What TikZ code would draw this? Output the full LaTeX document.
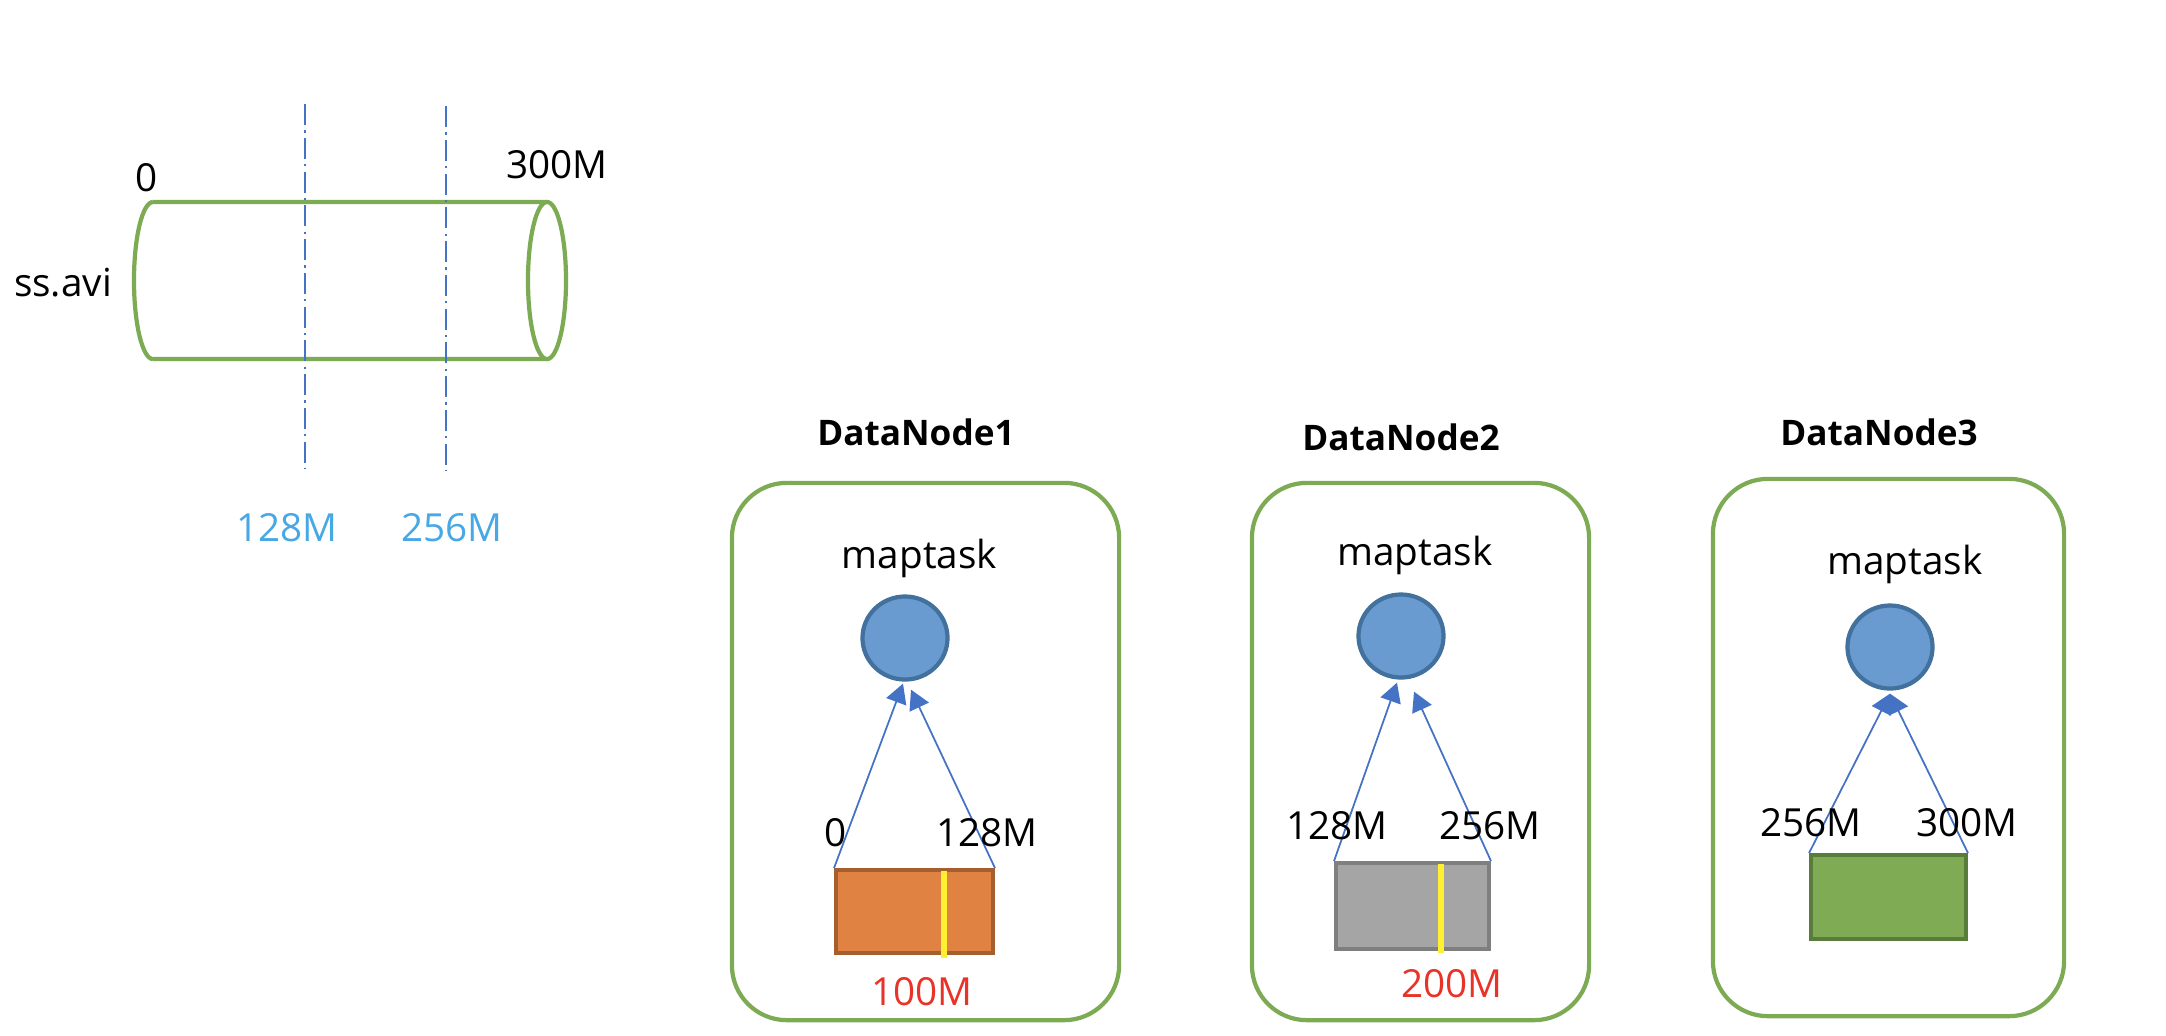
\documentclass[tikz,border=0pt]{standalone}
\usepackage{fontspec}
\setmainfont{Open Sans}
\usetikzlibrary{arrows.meta,shapes.geometric}
\definecolor{hdgreen}{RGB}{125,171,84}
\definecolor{cutblue}{RGB}{68,114,196}
\definecolor{sizeblue}{RGB}{72,168,230}
\definecolor{taskfill}{RGB}{106,155,208}
\definecolor{taskline}{RGB}{65,113,156}
\definecolor{splitred}{RGB}{232,52,40}
\definecolor{cutyellow}{RGB}{255,240,50}
\definecolor{orfill}{RGB}{224,130,66} \definecolor{orline}{RGB}{165,94,45}
\definecolor{grfill}{RGB}{165,165,165} \definecolor{grline}{RGB}{127,127,127}
\definecolor{gnfill}{RGB}{127,171,85} \definecolor{gnline}{RGB}{88,125,58}

\begin{document}
\begin{tikzpicture}[x=0.01cm, y=-0.01cm,
    txt/.style={inner sep=0pt, font=\fontsize{11}{13}\selectfont},
    title/.style={inner sep=0pt, font=\fontsize{10}{12}\selectfont\bfseries},
    dnbox/.style={draw=hdgreen, line width=1.2pt, rounded corners=0.55cm, inner sep=0pt, minimum height=5.37cm},
    task/.style={ellipse, draw=taskline, fill=taskfill, line width=1.2pt, minimum width=0.85cm, minimum height=0.83cm, inner sep=0pt},
    split/.style={line width=1.1pt, minimum width=1.55cm, minimum height=0.84cm, inner sep=0pt},
    feed/.style={cutblue, line width=0.5pt, -{Triangle[width=6pt,length=5.5pt]}},
    cut/.style={cutblue, line width=0.6pt, dash pattern=on 6pt off 1.5pt on 0.6pt off 1.5pt}]
    \useasboundingbox (0,0) rectangle (2166,1035);

    % the file, cut at 128M and 256M
    \draw[hdgreen, line width=1.2pt] (153,202) -- (547,202) (153,359) -- (547,359)
        (153,202) arc[start angle=90, end angle=270, x radius=0.19cm, y radius=0.785cm];
    \draw[hdgreen, line width=1.2pt] (547,280.5) ellipse (0.19cm and 0.785cm);
    \foreach \x/\y in {305/104, 446/106} \draw[cut] (\x,\y) -- ++(0,364);
    \node[txt] (f0) at (147,178) {0}; \node[txt] (f300) at (557,165) {300M};
    \node[txt] (file) at (63,283) {ss.avi};
    \node[txt, sizeblue] (c128) at (287,528) {128M}; \node[txt, sizeblue] (c256) at (452,528) {256M};

    % DataNode1
    \node[dnbox, minimum width=3.87cm] (dn1) at (925.5,751.5) {};
    \node[title] (t1) at (916,432) {DataNode1}; \node[txt] (m1) at (919.5,558) {maptask};
    \node[task] (mt1) at (905,638) {};
    \node[split, draw=orline, fill=orfill, minimum width=1.57cm, minimum height=0.83cm] (b1) at (914.5,911.5) {};
    \draw[cutyellow, line width=1.5pt] (944,871) -- (944,958);
    \draw[feed] (b1.north west) -- ([shift={(-2,2)}]mt1.south);
    \draw[feed] (b1.north east) -- ([shift={(6,8)}]mt1.south);
    \node[txt] (l1a) at (836,833) {0}; \node[txt] (l1b) at (987,833) {128M};
    \node[txt, splitred] (r1) at (922,992) {100M};

    % DataNode2
    \node[dnbox, minimum width=3.37cm] (dn2) at (1420.5,751.5) {};
    \node[title] (t2) at (1401,437) {DataNode2}; \node[txt] (m2) at (1415,555) {maptask};
    \node[task] (mt2) at (1401,636) {};
    \node[split, draw=grline, fill=grfill, minimum width=1.53cm, minimum height=0.86cm] (b2) at (1412.5,906) {};
    \draw[cutyellow, line width=1.5pt] (1441,864) -- (1441,953);
    \draw[feed] (b2.north west) -- ([shift={(-4,3)}]mt2.south);
    \draw[feed] (b2.north east) -- ([shift={(13,12)}]mt2.south);
    \node[txt] (l2a) at (1337,826) {128M}; \node[txt] (l2b) at (1490,826) {256M};
    \node[txt, splitred] (r2) at (1452,984) {200M};

    % DataNode3
    \node[dnbox, minimum width=3.51cm] (dn3) at (1888.5,747.5) {};
    \node[title] (t3) at (1879,432) {DataNode3}; \node[txt] (m3) at (1905,564) {maptask};
    \node[task] (mt3) at (1890,647) {};
    \node[split, draw=gnline, fill=gnfill] (b3) at (1888.5,897) {};
    \draw[feed] (b3.north west) -- ([shift={(0,3)}]mt3.south);
    \draw[feed] (b3.north east) -- ([shift={(0,3)}]mt3.south);
    \node[txt] (l3a) at (1811,823) {256M}; \node[txt] (l3b) at (1967,823) {300M};
\end{tikzpicture}
\end{document}
